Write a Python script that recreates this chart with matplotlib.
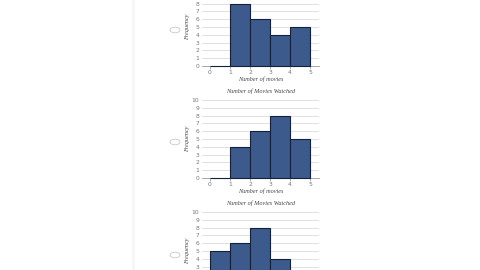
import matplotlib.pyplot as plt
from matplotlib.lines import Line2D
from matplotlib.patches import Circle

# data: three answer-choice histograms
bin_edges = [0, 1, 2, 3, 4, 5]
freq_a = [0, 8, 6, 4, 5]
freq_b = [0, 4, 6, 8, 5]
freq_c = [5, 6, 8, 4, 0]
y_ticks = list(range(0, 11))
title_txt = "Number of Movies Watched"
xlabel_txt = "Number of movies"
ylabel_txt = "Frequency"

BAR = "#3d5a8c"
EDGE = "#14213d"
GRID = "#dcdcdc"
TICKC = "#777777"

W, H = 480, 270
fig = plt.figure(figsize=(4.8, 2.7), dpi=100)
fig.patch.set_facecolor("white")

# faint page divider on the left
fig.add_artist(Line2D([133 / W, 133 / W], [0, 1], color="#f6f6f6", lw=2))

# (baseline pixel y, radio y) for each panel
panels = [(66, 30, freq_a), (178, 142, freq_b), (290, 255, freq_c)]
px_per_unit = 7.8
left_px, right_px = 202, 319

for base_y, radio_y, freqs in panels:
    top_y = base_y - 10 * px_per_unit
    ax = fig.add_axes([left_px / W, (H - base_y) / H,
                       (right_px - left_px) / W, (base_y - top_y) / H])
    ax.set_xlim(-0.4, 5.45)
    ax.set_ylim(0, 10)
    ax.bar(bin_edges[:-1], freqs, width=1, align="edge",
           color=BAR, edgecolor=EDGE, linewidth=0.8, zorder=3, clip_on=False)
    ax.set_yticks(y_ticks)
    ax.set_xticks(bin_edges)
    ax.yaxis.grid(True, color=GRID, lw=0.6, zorder=0)
    for s in ["top", "right", "left"]:
        ax.spines[s].set_visible(False)
    ax.spines["bottom"].set_color("#999999")
    ax.spines["bottom"].set_linewidth(0.6)
    ax.tick_params(axis="both", labelsize=4.3, colors=TICKC, length=2, width=0.4, pad=1)
    ax.tick_params(axis="y", length=0, pad=2)
    ax.set_xlabel(xlabel_txt, fontsize=4.5, family="Liberation Serif",
                  style="italic", color="#444444", labelpad=1)
    ax.set_ylabel(ylabel_txt, fontsize=4.5, family="Liberation Serif",
                  style="italic", color="#444444", labelpad=1)
    ax.set_title(title_txt, fontsize=4.5, family="Liberation Serif",
                 style="italic", color="#444444", pad=5)
    ax.set_facecolor("none")

    # radio button
    fig.add_artist(Circle((175 / W, (H - radio_y) / H), 2.8 / H,
                          transform=fig.transFigure, fill=False,
                          edgecolor="#c8c8c8", lw=0.6))

fig.savefig("out.png", dpi=100, facecolor="white")
